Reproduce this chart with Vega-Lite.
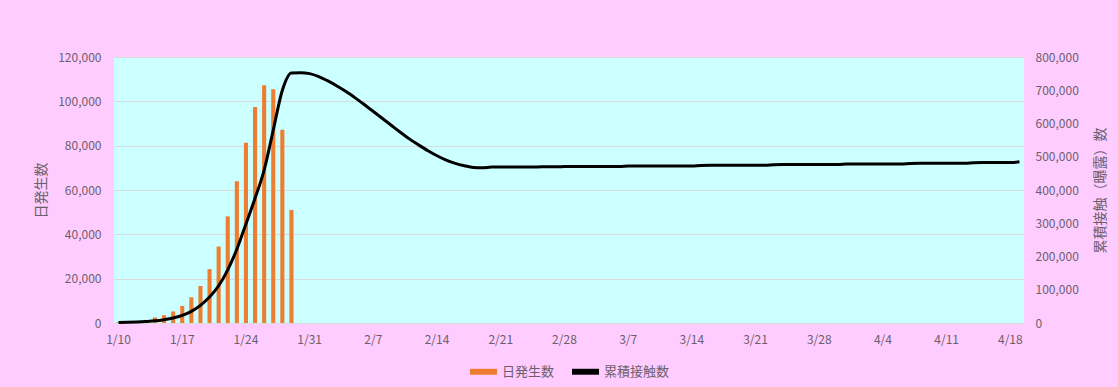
{
 "$schema": "https://vega.github.io/schema/vega-lite/v6.json",
 "width": 910,
 "height": 266,
 "autosize": {"type": "none"},
 "padding": {"left": 114, "top": 57, "right": 94, "bottom": 64},
 "background": "#FFCCFF",
 "config": {
  "view": {"fill": "#CCFFFF", "stroke": null},
  "font": "Noto Sans CJK JP",
  "axis": {"labelFont": "Noto Sans CJK JP", "titleFont": "Noto Sans CJK JP", "labelFontSize": 12, "labelColor": "#6B5F6B", "titleColor": "#6B5F6B", "titleFontWeight": "normal", "titleFontSize": 14, "domain": false, "ticks": false},
  "legend": {"labelFont": "Noto Sans CJK JP", "labelFontSize": 13, "labelColor": "#6B5F6B"}
 },
 "data": {"values": [
  {"d":"2021-01-10","daily":300,"cum":1500},
  {"d":"2021-01-11","daily":500,"cum":2000},
  {"d":"2021-01-12","daily":800,"cum":3000},
  {"d":"2021-01-13","daily":1400,"cum":4500},
  {"d":"2021-01-14","daily":2500,"cum":6500},
  {"d":"2021-01-15","daily":3500,"cum":10000},
  {"d":"2021-01-16","daily":5200,"cum":15000},
  {"d":"2021-01-17","daily":7700,"cum":23000},
  {"d":"2021-01-18","daily":11600,"cum":35000},
  {"d":"2021-01-19","daily":16700,"cum":53000},
  {"d":"2021-01-20","daily":24300,"cum":78000},
  {"d":"2021-01-21","daily":34500,"cum":112000},
  {"d":"2021-01-22","daily":48100,"cum":160000},
  {"d":"2021-01-23","daily":64000,"cum":222000},
  {"d":"2021-01-24","daily":81300,"cum":298000},
  {"d":"2021-01-25","daily":97400,"cum":375000},
  {"d":"2021-01-26","daily":107200,"cum":460000},
  {"d":"2021-01-27","daily":105500,"cum":580000},
  {"d":"2021-01-28","daily":87200,"cum":700000},
  {"d":"2021-01-29","daily":51000,"cum":752000},
  {"d":"2021-01-30","daily":0,"cum":753000},
  {"d":"2021-01-31","daily":0,"cum":750000},
  {"d":"2021-02-01","daily":0,"cum":741000},
  {"d":"2021-02-02","daily":0,"cum":728000},
  {"d":"2021-02-03","daily":0,"cum":713000},
  {"d":"2021-02-04","daily":0,"cum":696000},
  {"d":"2021-02-05","daily":0,"cum":677000},
  {"d":"2021-02-06","daily":0,"cum":657000},
  {"d":"2021-02-07","daily":0,"cum":636000},
  {"d":"2021-02-08","daily":0,"cum":615000},
  {"d":"2021-02-09","daily":0,"cum":594000},
  {"d":"2021-02-10","daily":0,"cum":573000},
  {"d":"2021-02-11","daily":0,"cum":553000},
  {"d":"2021-02-12","daily":0,"cum":535000},
  {"d":"2021-02-13","daily":0,"cum":518000},
  {"d":"2021-02-14","daily":0,"cum":503000},
  {"d":"2021-02-15","daily":0,"cum":490000},
  {"d":"2021-02-16","daily":0,"cum":480000},
  {"d":"2021-02-17","daily":0,"cum":473000},
  {"d":"2021-02-18","daily":0,"cum":468000},
  {"d":"2021-02-19","daily":0,"cum":467000},
  {"d":"2021-02-20","daily":0,"cum":469000},
  {"d":"2021-02-21","daily":0,"cum":469000},
  {"d":"2021-02-22","daily":0,"cum":469000},
  {"d":"2021-02-23","daily":0,"cum":469000},
  {"d":"2021-02-24","daily":0,"cum":469500},
  {"d":"2021-02-25","daily":0,"cum":469500},
  {"d":"2021-02-26","daily":0,"cum":470000},
  {"d":"2021-02-27","daily":0,"cum":470000},
  {"d":"2021-02-28","daily":0,"cum":470500},
  {"d":"2021-03-01","daily":0,"cum":471000},
  {"d":"2021-03-02","daily":0,"cum":471000},
  {"d":"2021-03-03","daily":0,"cum":471000},
  {"d":"2021-03-04","daily":0,"cum":471000},
  {"d":"2021-03-05","daily":0,"cum":471000},
  {"d":"2021-03-06","daily":0,"cum":471000},
  {"d":"2021-03-07","daily":0,"cum":472000},
  {"d":"2021-03-08","daily":0,"cum":472500},
  {"d":"2021-03-09","daily":0,"cum":472500},
  {"d":"2021-03-10","daily":0,"cum":472500},
  {"d":"2021-03-11","daily":0,"cum":472500},
  {"d":"2021-03-12","daily":0,"cum":472500},
  {"d":"2021-03-13","daily":0,"cum":472500},
  {"d":"2021-03-14","daily":0,"cum":472500},
  {"d":"2021-03-15","daily":0,"cum":474000},
  {"d":"2021-03-16","daily":0,"cum":474500},
  {"d":"2021-03-17","daily":0,"cum":474500},
  {"d":"2021-03-18","daily":0,"cum":474500},
  {"d":"2021-03-19","daily":0,"cum":474500},
  {"d":"2021-03-20","daily":0,"cum":474500},
  {"d":"2021-03-21","daily":0,"cum":474500},
  {"d":"2021-03-22","daily":0,"cum":474500},
  {"d":"2021-03-23","daily":0,"cum":476000},
  {"d":"2021-03-24","daily":0,"cum":476500},
  {"d":"2021-03-25","daily":0,"cum":476500},
  {"d":"2021-03-26","daily":0,"cum":476500},
  {"d":"2021-03-27","daily":0,"cum":476500},
  {"d":"2021-03-28","daily":0,"cum":476500},
  {"d":"2021-03-29","daily":0,"cum":476500},
  {"d":"2021-03-30","daily":0,"cum":476500},
  {"d":"2021-03-31","daily":0,"cum":478000},
  {"d":"2021-04-01","daily":0,"cum":478500},
  {"d":"2021-04-02","daily":0,"cum":478500},
  {"d":"2021-04-03","daily":0,"cum":478500},
  {"d":"2021-04-04","daily":0,"cum":478500},
  {"d":"2021-04-05","daily":0,"cum":478500},
  {"d":"2021-04-06","daily":0,"cum":478500},
  {"d":"2021-04-07","daily":0,"cum":480000},
  {"d":"2021-04-08","daily":0,"cum":480500},
  {"d":"2021-04-09","daily":0,"cum":480500},
  {"d":"2021-04-10","daily":0,"cum":480500},
  {"d":"2021-04-11","daily":0,"cum":480500},
  {"d":"2021-04-12","daily":0,"cum":480500},
  {"d":"2021-04-13","daily":0,"cum":480500},
  {"d":"2021-04-14","daily":0,"cum":482000},
  {"d":"2021-04-15","daily":0,"cum":482500},
  {"d":"2021-04-16","daily":0,"cum":482500},
  {"d":"2021-04-17","daily":0,"cum":482500},
  {"d":"2021-04-18","daily":0,"cum":482500},
  {"d":"2021-04-19","daily":0,"cum":485000}
 ]},
 "encoding": {
  "x": {
   "field": "d", "type": "ordinal",
   "scale": {"paddingInner": 0.55, "paddingOuter": 0.275},
   "axis": {
    "title": null, "labelAngle": 0, "labelPadding": 11, "grid": false,
    "values": ["2021-01-10","2021-01-17","2021-01-24","2021-01-31","2021-02-07","2021-02-14","2021-02-21","2021-02-28","2021-03-07","2021-03-14","2021-03-21","2021-03-28","2021-04-04","2021-04-11","2021-04-18"],
    "labelExpr": "utcFormat(toDate(datum.value), '%-m/%-d')"
   }
  }
 },
 "layer": [
  {
   "mark": {"type": "bar"},
   "encoding": {
    "y": {
     "field": "daily", "type": "quantitative",
     "scale": {"domain": [0, 120000], "nice": false},
     "axis": {
      "title": "日発生数", "orient": "left", "values": [0,20000,40000,60000,80000,100000,120000],
      "format": ",.0f", "labelPadding": 13, "grid": true, "gridColor": "#DADADA", "gridWidth": 1.2,
      "titleX": -73, "titleY": 133, "titleAngle": 270, "titleAlign": "center", "titleBaseline": "middle"
     }
    },
    "color": {
     "datum": "日発生数",
     "scale": {"domain": ["日発生数", "累積接触数"], "range": ["#ED7D31", "#000000"]},
     "legend": {
      "title": null, "orient": "none", "direction": "horizontal", "legendX": 356, "legendY": 301,
      "symbolType": "M-1,-0.22H1V0.22H-1Z", "symbolSize": 729, "symbolStrokeWidth": 0,
      "labelOffset": 5, "columnPadding": 17
     }
    }
   }
  },
  {
   "mark": {"type": "line", "color": "#000000", "strokeWidth": 3, "interpolate": "monotone"},
   "encoding": {
    "y": {
     "field": "cum", "type": "quantitative",
     "scale": {"domain": [0, 800000], "nice": false},
     "axis": {
      "title": "累積接触（曝露）数", "orient": "right", "values": [0,100000,200000,300000,400000,500000,600000,700000,800000],
      "format": ",.0f", "labelPadding": 11, "grid": false,
      "titleX": 76, "titleY": 133, "titleAngle": 270, "titleAlign": "center", "titleBaseline": "middle"
     }
    }
   }
  }
 ],
 "resolve": {"scale": {"y": "independent"}}
}
